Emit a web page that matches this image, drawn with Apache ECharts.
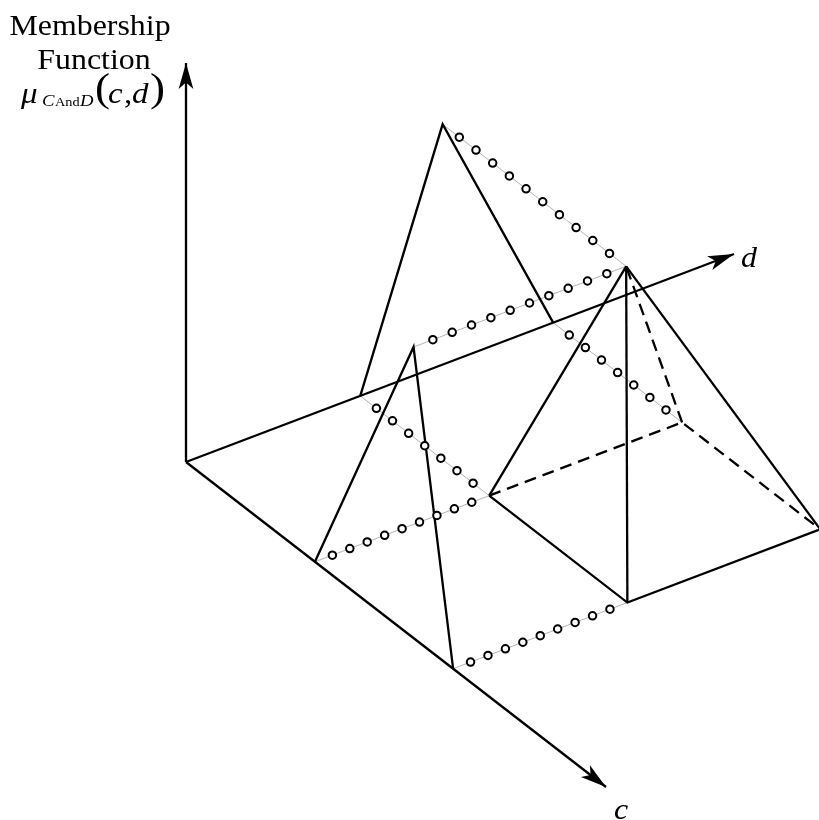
<!DOCTYPE html>
<html>
<head>
<meta charset="utf-8">
<script src="https://cdn.jsdelivr.net/npm/echarts@6/dist/echarts.min.js"></script>
<style>
  html, body { margin: 0; padding: 0; background: #fff; }
  #chart { width: 819px; height: 820px; }
</style>
</head>
<body>
<div id="chart"></div>
<script>
// Breakpoints of the triangular membership functions: start, peak, end
const cBreaks = [3.07, 4.37, 6.36];
const dBreaks = [3.18, 3.88, 6.70];
const peakGrade = 1;
// Extents of the c and d axes
const cAxisMax = 10;
const dAxisMax = 10;
// Circles drawn along each projection guide
const guideDots = [10, 10, 7, 9, 7, 9];

// Oblique projection of (c, d, mu) onto the page
const ORIGIN = [186, 462];
const C_STEP = [42.0, 32.5];
const D_STEP = [54.8, -20.8];
const MU_STEP = [44, -257];
const MU_AXIS_PX = 399;

function proj(c, d, m) {
  return [
    ORIGIN[0] + c * C_STEP[0] + d * D_STEP[0] + m * MU_STEP[0],
    ORIGIN[1] + c * C_STEP[1] + d * D_STEP[1] + m * MU_STEP[1]
  ];
}

const [c1, c2, c3] = cBreaks;
const [d1, d2, d3] = dBreaks;
const h = peakGrade;

const O = proj(0, 0, 0);
const axes = [
  { coords: [O, [O[0], O[1] - MU_AXIS_PX]] },
  { coords: [O, proj(0, dAxisMax, 0)] },
  { coords: [O, proj(cAxisMax, 0, 0)] }
];

// corners of the pyramid: grade of "C and D"
const apex = proj(c2, d2, h);
const b11 = proj(c1, d1, 0), b31 = proj(c3, d1, 0);
const b33 = proj(c3, d3, 0), b13 = proj(c1, d3, 0);

const solid = [
  // membership of D along the d axis
  { coords: [proj(0, d1, 0), proj(0, d2, h), proj(0, d3, 0)] },
  // membership of C along the c axis
  { coords: [proj(c1, 0, 0), proj(c2, 0, h), proj(c3, 0, 0)] },
  { coords: [b11, apex] },
  { coords: [b31, apex] },
  { coords: [b33, apex] },
  { coords: [b11, b31, b33] }
];
const hidden = [
  { coords: [b13, apex] },
  { coords: [b11, b13, b33] }
];

const guideEnds = [
  [proj(0, d2, h), apex],
  [proj(c2, 0, h), apex],
  [proj(0, d1, 0), b11],
  [proj(c1, 0, 0), b11],
  [proj(0, d3, 0), b13],
  [proj(c3, 0, 0), b31]
];
const guides = guideEnds.map(g => ({ coords: g }));
const dots = [];
guideEnds.forEach((g, i) => {
  const n = guideDots[i];
  for (let k = 1; k <= n; k++) {
    const t = k / (n + 1);
    dots.push([g[0][0] + (g[1][0] - g[0][0]) * t, g[0][1] + (g[1][1] - g[0][1]) * t]);
  }
});

const SERIF = '"Liberation Serif", "Times New Roman", serif';
const SX = 1.1;
function txt(str, x, y, size, italic) {
  return {
    type: 'text', x: x, y: y, scaleX: SX, silent: true,
    style: {
      text: str,
      font: (italic ? 'italic ' : '') + size + 'px ' + SERIF,
      fill: '#000',
      textAlign: 'left',
      textVerticalAlign: 'middle'
    }
  };
}
function ctr(str, x, y, size) {
  const el = txt(str, x, y, size, false);
  el.style.textAlign = 'center';
  return el;
}

const chart = echarts.init(document.getElementById('chart'), null, { renderer: 'canvas' });
chart.setOption({
  backgroundColor: '#fff',
  animation: false,
  grid: { left: 0, right: 0, top: 0, bottom: 0 },
  xAxis: { type: 'value', min: 0, max: 819, show: false },
  yAxis: { type: 'value', min: 0, max: 820, inverse: true, show: false },
  series: [
    {
      type: 'lines', coordinateSystem: 'cartesian2d', polyline: false,
      data: guides, silent: true,
      lineStyle: { color: '#b4b4b4', width: 1, opacity: 1 }
    },
    {
      type: 'scatter', data: dots, symbol: 'circle', symbolSize: 7.5, silent: true,
      itemStyle: { color: '#fff', borderColor: '#000', borderWidth: 2, opacity: 1 }
    },
    {
      type: 'lines', coordinateSystem: 'cartesian2d', polyline: true,
      data: solid, silent: true,
      lineStyle: { color: '#000', width: 2.3, opacity: 1 }
    },
    {
      type: 'lines', coordinateSystem: 'cartesian2d', polyline: true,
      data: hidden, silent: true,
      lineStyle: { color: '#000', width: 2.3, type: [12, 7], opacity: 1 }
    },
    {
      type: 'lines', coordinateSystem: 'cartesian2d',
      data: axes, silent: true,
      symbol: ['none', 'arrow'], symbolSize: [10, [11, 26]],
      lineStyle: { color: '#000', width: 2.3, opacity: 1 },
      itemStyle: { color: '#000' }
    }
  ],
  graphic: [
    ctr('Membership', 90, 27, 29),
    ctr('Function', 94, 61, 29),
    txt('\u03bc', 21, 95, 30, true),
    txt('C', 42, 102, 17, true),
    txt('And', 55, 103, 13, false),
    txt('D', 80, 102, 17, true),
    txt('(', 95, 90, 41, false),
    txt('c', 108, 95, 30, true),
    txt(',', 124, 95, 30, false),
    txt('d', 132, 95, 30, true),
    txt(')', 150, 90, 41, false),
    txt('d', 741, 259, 29, true),
    txt('c', 614, 811, 29, true)
  ]
});
</script>
</body>
</html>
